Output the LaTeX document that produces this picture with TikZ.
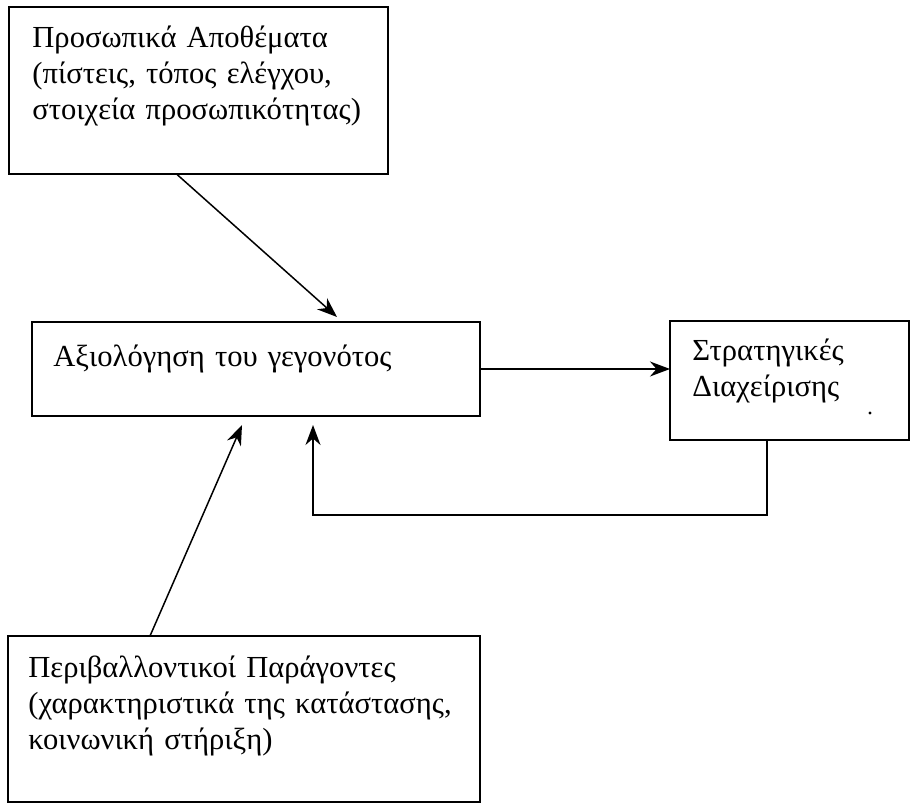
\documentclass[tikz,border=0pt]{standalone}
\usepackage{fontspec}
\setmainfont{Liberation Serif}
\usetikzlibrary{arrows.meta}
\tikzset{
    BX/.style ={rectangle, draw, line width=0.75pt, inner sep=0pt, outer sep=0pt},
    TX/.style ={anchor=base west, inner sep=0pt, align=left, text width=#1, font=\fontsize{15.3pt}{18pt}\selectfont},
    AR/.style ={line width=0.75pt, -{Stealth[length=10pt,width=7.5pt]}}}

\begin{document}
\begin{tikzpicture}[x=0.5pt,y=-0.5pt]
        \useasboundingbox (0,0) rectangle (915,807);
        \node[BX, minimum width=189.5pt, minimum height=83.5pt] (PA) at (198.5,90.5) {};
        \node[BX, minimum width=224pt, minimum height=47pt] (AG) at (256,369) {};
        \node[BX, minimum width=119.5pt, minimum height=59.5pt] (SD) at (789.5,380.5) {};
        \node[BX, minimum width=236pt, minimum height=83pt] (PP) at (244,719) {};
        \node[TX=200pt] (PAt) at ([shift={(23,41)}]PA.north west) {Προσωπικά Αποθέματα\\(πίστεις, τόπος ελέγχου,\\στοιχεία προσωπικότητας)};
        \node[TX=200pt] (AGt) at ([shift={(21,45)}]AG.north west) {Αξιολόγηση του γεγονότος};
        \node[TX=100pt] (SDt) at ([shift={(22,40)}]SD.north west) {Στρατηγικές\\Διαχείρισης};
        \node[TX=230pt] (PPt) at ([shift={(20,41)}]PP.north west) {Περιβαλλοντικοί Παράγοντες\\(χαρακτηριστικά της κατάστασης,\\κοινωνική στήριξη)};
        \coordinate (fb) at ([xshift=28.5pt,yshift=-4.5pt]AG.south);
        \draw[AR] ([xshift=-11pt]PA.south) -- ([xshift=40.5pt,yshift=2.5pt]AG.north);
        \draw[AR] (AG.east) -- (AG.east -| SD.west);
        \draw[AR] ([xshift=-47pt]PP.north) -- ([xshift=-7pt,yshift=-4.5pt]AG.south);
        \draw[AR] ([xshift=-11.25pt]SD.south) -- ++(0,75) -| (fb);
        \fill (870,413) circle (0.8pt);
\end{tikzpicture}
\end{document}
